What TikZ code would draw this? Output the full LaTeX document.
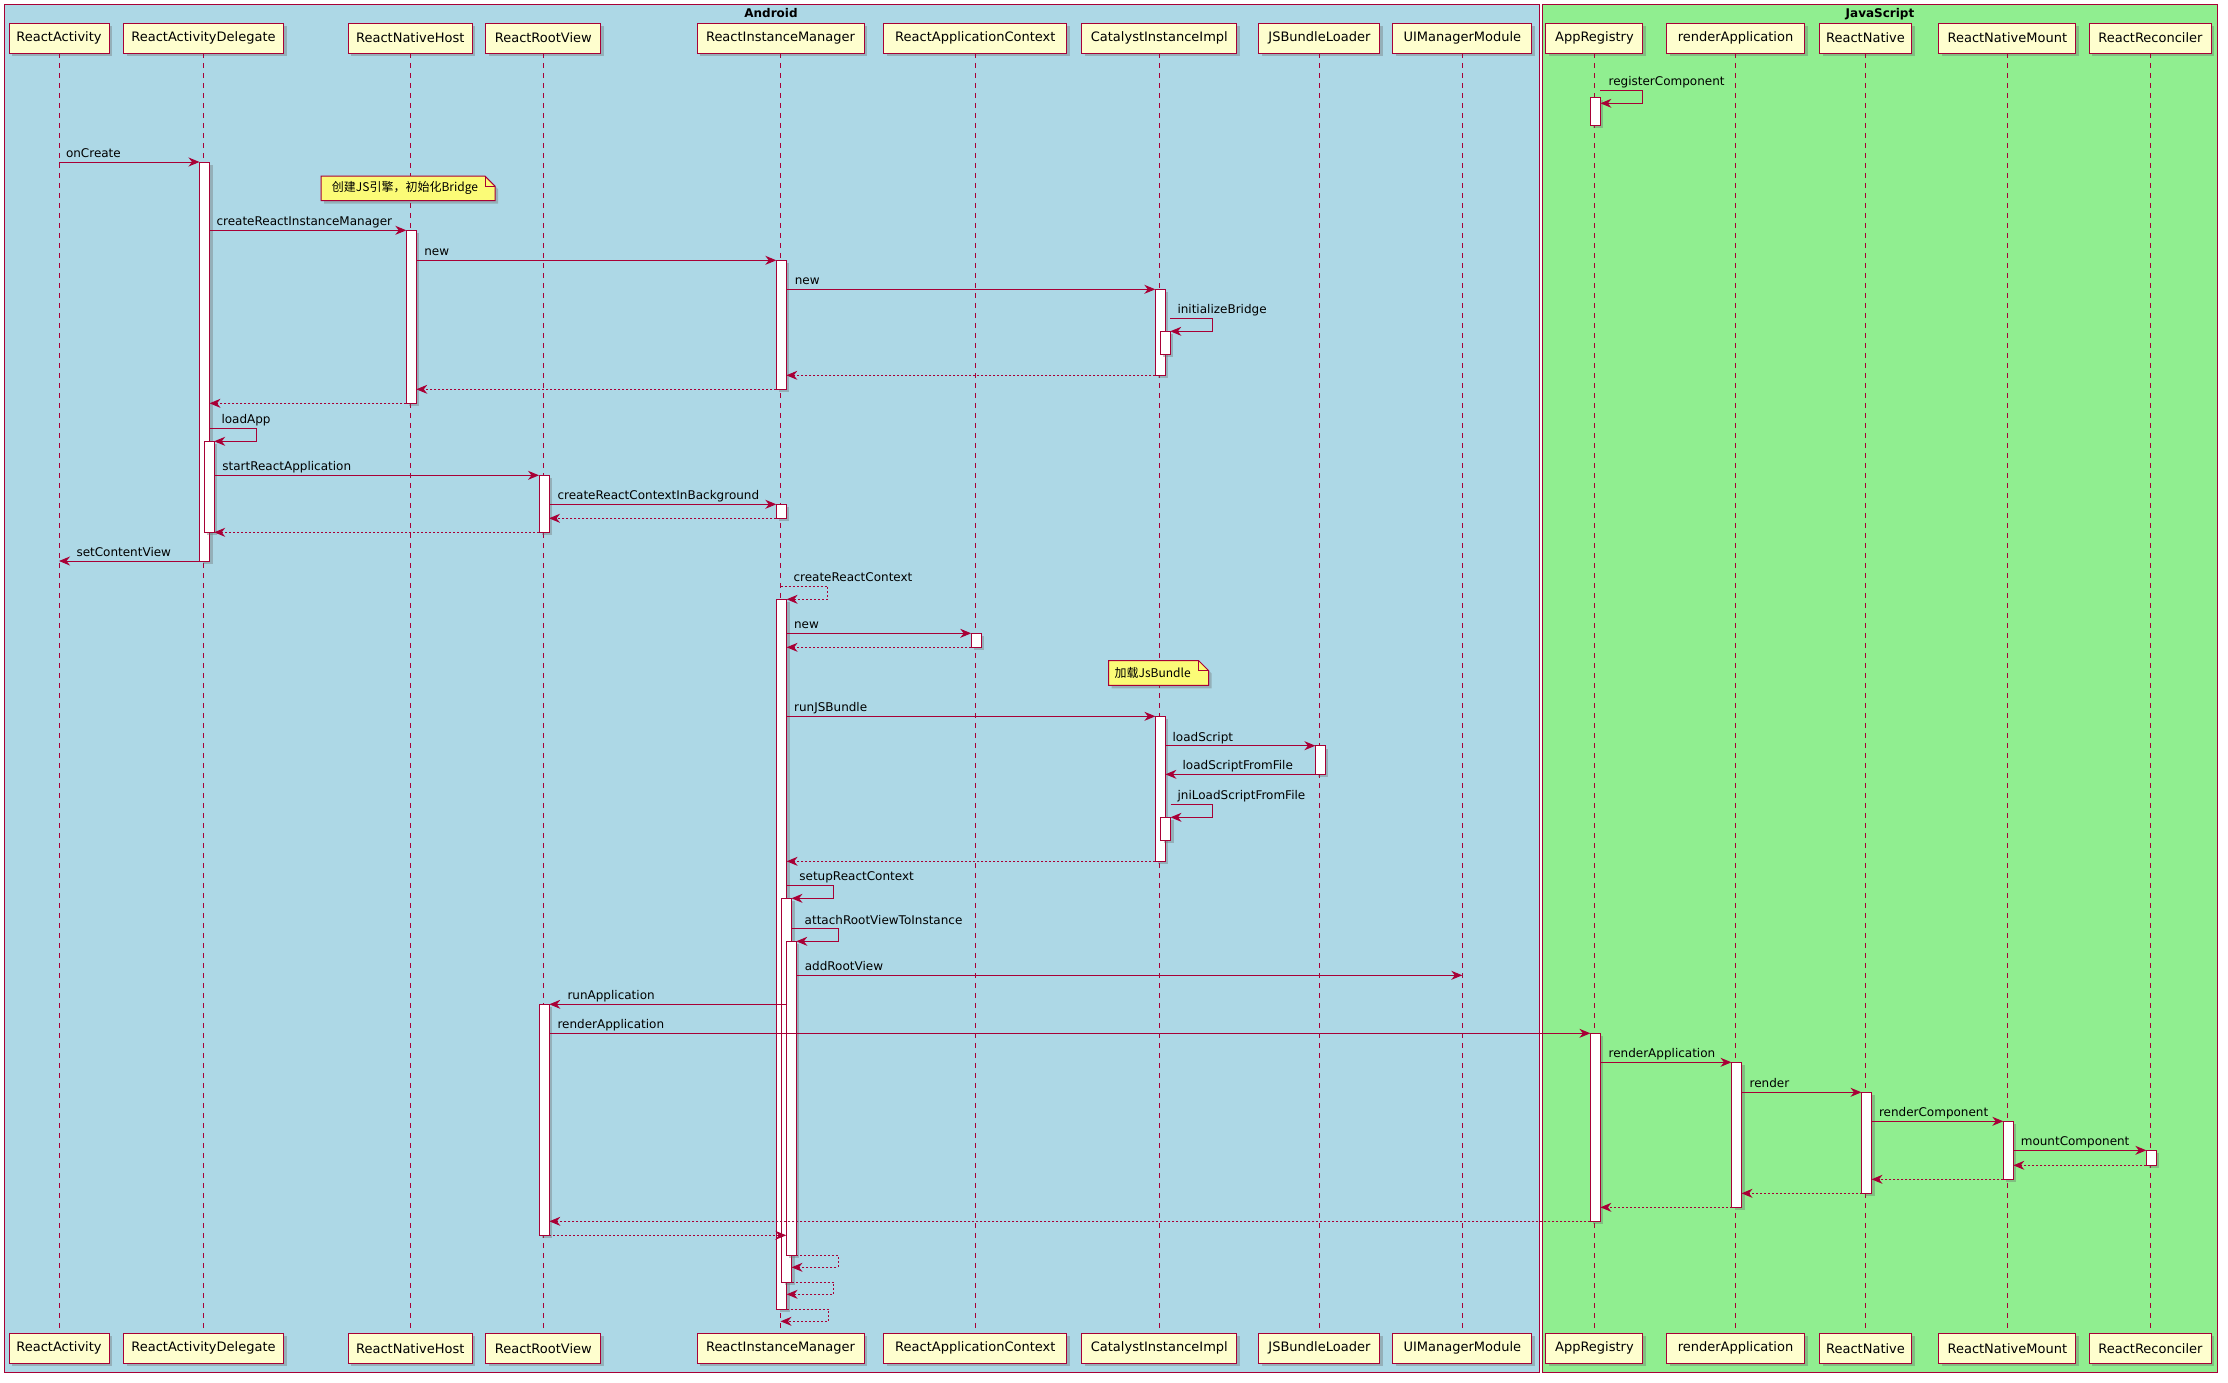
\documentclass[tikz,border=0pt]{standalone}
\usepackage{fontspec}
\setmainfont{DejaVu Sans}
\newfontfamily\cjk{Noto Sans CJK SC}
\usetikzlibrary{arrows.meta,shadows,calc}
\definecolor{pu}{HTML}{A80036}
\definecolor{pfill}{HTML}{FEFECE}
\definecolor{nfill}{HTML}{FBFB77}
\definecolor{andbg}{HTML}{ADD8E6}
\definecolor{jsbg}{HTML}{90EE90}
\tikzset{
  shad/.style={drop shadow={shadow xshift=3pt, shadow yshift=-3pt, opacity=0.35, fill=black!60}},
  part/.style={draw=pu, fill=pfill, line width=1pt, minimum height=30pt, inner sep=0pt, outer sep=0pt, font=\fontsize{13}{15}\selectfont, shad},
  life/.style={draw=pu, line width=0.9pt, dash pattern=on 5pt off 5pt},
  actbox/.style={draw=pu, fill=white, line width=1pt, minimum width=10pt, inner sep=0pt, outer sep=0pt, shad},
  msg/.style={draw=pu, line width=1pt, -{Stealth[length=11pt,width=9pt,inset=3.5pt]}},
  ret/.style={msg, dash pattern=on 2pt off 2pt},
  lbl/.style={font=\fontsize{12}{14}\selectfont, inner sep=0pt, anchor=base west, yshift=4.5pt},
  frm/.style={draw=pu, line width=1pt},
  ftitle/.style={font=\bfseries\fontsize{12}{14}\selectfont, inner sep=0pt, anchor=base},
  notebox/.style={inner sep=0pt, outer sep=0pt},
  notetext/.style={inner sep=0pt, font=\cjk\fontsize{12}{14}\selectfont},
  noteline/.style={draw=pu, fill=nfill, line width=1pt},
}
\newcommand\participant[4]{%
  \node[part, minimum width=#3pt] (#1t) at (#2,38) {#4};
  \node[part, minimum width=#3pt] (#1b) at (#2,1348.3) {#4};
  \draw[life] (#1t.south) -- (#1b.north);
}
\newcommand\actv[4]{%
  \pgfmathsetmacro\acth{#4-#3}%
  \pgfmathsetmacro\actm{(#3+#4)/2}%
  \node[actbox, minimum height=\acth pt] (#1) at (#2,\actm) {};
}
\begin{document}
\begin{tikzpicture}[x=1pt,y=-1pt]
\useasboundingbox (0,0) rectangle (2228,1382);
\fill[white] (0,0) rectangle (2228,1382);
% frames
\draw[frm, fill=andbg] (4,4) rectangle (1539,1372);
\draw[frm, fill=jsbg] (1542,4) rectangle (2217,1372);
\node[ftitle] (tA) at (771,17) {Android};
\node[ftitle] (tJ) at (1880,17) {JavaScript};
% participants
\participant{p1}{59}{100}{ReactActivity}
\participant{p2}{203.5}{160}{ReactActivityDelegate}
\participant{p3}{410.3}{124}{ReactNativeHost}
\participant{p4}{543.3}{115}{ReactRootView}
\participant{p5}{780.5}{167}{ReactInstanceManager}
\participant{p6}{975.3}{183}{ReactApplicationContext}
\participant{p7}{1159.3}{155}{CatalystInstanceImpl}
\participant{p8}{1319.4}{121}{JSBundleLoader}
\participant{p9}{1462.3}{139}{UIManagerModule}
\participant{p10}{1594.4}{97}{AppRegistry}
\participant{p11}{1735.5}{138}{renderApplication}
\participant{p12}{1865.5}{92}{ReactNative}
\participant{p13}{2007.3}{137}{ReactNativeMount}
\participant{p14}{2150.4}{122}{ReactReconciler}
% activations
\actv{aAR0}{1595.4}{97.3}{125.3}
\actv{aD1}{204.5}{162}{561}
\actv{aNH}{411.3}{230.3}{403.3}
\actv{aIM1}{781.3}{260.3}{389.3}
\actv{aCI1}{1160.3}{289.3}{375.3}
\actv{aCI2}{1165.3}{331.3}{354.3}
\actv{aD2}{209.2}{441.3}{532.3}
\actv{aRV1}{544}{475.3}{532.3}
\actv{aIM2}{781.3}{504.3}{518.3}
\actv{aIM3}{781.6}{599.3}{1309}
\actv{aAC}{976.2}{633.3}{647.3}
\actv{aCI3}{1160.4}{716.3}{861.3}
\actv{aJB}{1320.4}{745.7}{774.3}
\actv{aCI4}{1165.5}{817.3}{840}
\actv{aIM4}{786.5}{898.3}{1282.3}
\actv{aIM5}{791.3}{941.3}{1255.3}
\actv{aRV2}{544.3}{1004.3}{1235.3}
\actv{aAR}{1595.4}{1033.3}{1221.3}
\actv{aRA}{1736.5}{1062.3}{1207.3}
\actv{aRN}{1866.5}{1092.3}{1193.3}
\actv{aRNM}{2008.3}{1121.3}{1179.3}
\actv{aRR}{2151.3}{1150.3}{1165.3}
% notes
\node[notebox, minimum width=174pt, minimum height=24.5pt] (n1box) at (408,188.3) {};
\draw[noteline, shad] (n1box.south west) -- (n1box.north west) -- ([xshift=-10pt]n1box.north east) -- ([yshift=-10pt]n1box.north east) -- (n1box.south east) -- cycle;
\draw[pu, line width=1pt] ([xshift=-10pt]n1box.north east) |- ([yshift=-10pt]n1box.north east);
\node[notetext] (n1) at ([xshift=-3pt]n1box.center) {创建JS引擎，初始化Bridge};
\node[notebox, minimum width=100pt, minimum height=24.6pt] (n2box) at (1158.7,673) {};
\draw[noteline, shad] (n2box.south west) -- (n2box.north west) -- ([xshift=-10pt]n2box.north east) -- ([yshift=-10pt]n2box.north east) -- (n2box.south east) -- cycle;
\draw[pu, line width=1pt] ([xshift=-10pt]n2box.north east) |- ([yshift=-10pt]n2box.north east);
\node[notetext] (n2) at ([xshift=-6pt]n2box.center) {加载JsBundle};
% messages
\coordinate (yReg1) at (0,90);
\coordinate (yReg2) at (0,103.3);
\draw[msg] (aAR0.east |- yReg1) node[lbl, xshift=7.7pt] (m1) {registerComponent} -- ++(42,0) |- (aAR0.east |- yReg2);
\draw[msg] (p1t.south |- aD1.north) node[lbl, xshift=6.5pt] (m2) {onCreate} -- (aD1.north west);
\draw[msg] (aD1.east |- aNH.north) node[lbl, xshift=6.5pt] (m4) {createReactInstanceManager} -- (aNH.north west);
\draw[msg] (aNH.east |- aIM1.north) node[lbl, xshift=7.5pt] (m5) {new} -- (aIM1.north west);
\draw[msg] (aIM1.east |- aCI1.north) node[lbl, xshift=8pt] (m6) {new} -- (aCI1.north west);
\coordinate (yInit) at (0,318.3);
\draw[msg] (aCI2.east |- yInit) node[lbl, xshift=6.7pt] (m7) {initializeBridge} -- ++(42.4,0) |- (aCI2.north east);
\draw[ret] (aCI1.south west) -- (aIM1.east |- aCI1.south);
\draw[ret] (aIM1.south west) -- (aNH.east |- aIM1.south);
\draw[ret] (aNH.south west) -- (aD1.east |- aNH.south);
\coordinate (yLoad) at (0,428.3);
\draw[msg] (aD1.east |- yLoad) node[lbl, xshift=11.5pt] (m11) {loadApp} -- ++(47,0) |- (aD2.north east);
\draw[msg] (aD2.east |- aRV1.north) node[lbl, xshift=7.6pt] (m12) {startReactApplication} -- (aRV1.north west);
\draw[msg] (aRV1.east |- aIM2.north) node[lbl, xshift=8pt] (m13) {createReactContextInBackground} -- (aIM2.north west);
\draw[ret] (aIM2.south west) -- (aRV1.east |- aIM2.south);
\draw[ret] (aRV1.south west) -- (aD2.east |- aRV1.south);
\draw[msg] (aD1.south west) -- (p1t.south |- aD1.south) node[lbl, xshift=17pt] (m16) {setContentView};
\coordinate (yCRC) at (0,586.3);
\draw[ret] (p5t.south |- yCRC) node[lbl, xshift=12.5pt] (m17) {createReactContext} -- ++(47,0) |- (aIM3.north east);
\draw[msg] (aIM3.east |- aAC.north) node[lbl, xshift=7pt] (m18) {new} -- (aAC.north west);
\draw[ret] (aAC.south west) -- (aIM3.east |- aAC.south);
\draw[msg] (aIM3.east |- aCI3.north) node[lbl, xshift=7pt] (m21) {runJSBundle} -- (aCI3.north west);
\draw[msg] (aCI3.east |- aJB.north) node[lbl, xshift=6.7pt] (m22) {loadScript} -- (aJB.north west);
\draw[msg] (aJB.south west) -- (aCI3.east |- aJB.south) node[lbl, xshift=16.7pt] (m23) {loadScriptFromFile};
\coordinate (yJni) at (0,804.3);
\draw[msg] (aCI4.east |- yJni) node[lbl, xshift=6.6pt] (m24) {jniLoadScriptFromFile} -- ++(41.6,0) |- (aCI4.north east);
\draw[ret] (aCI3.south west) -- (aIM3.east |- aCI3.south);
\coordinate (ySetup) at (0,885.3);
\draw[msg] (aIM3.east |- ySetup) node[lbl, xshift=12.3pt] (m26) {setupReactContext} -- ++(47,0) |- (aIM4.north east);
\coordinate (yAttach) at (0,928.7);
\draw[msg] (aIM4.east |- yAttach) node[lbl, xshift=12.7pt] (m27) {attachRootViewToInstance} -- ++(47,0) |- (aIM5.north east);
\coordinate (yAdd) at (0,975.3);
\draw[msg] (aIM5.east |- yAdd) node[lbl, xshift=8pt] (m28) {addRootView} -- (p9t.south |- yAdd);
\draw[msg] (aIM5.west |- aRV2.north) -- (aRV2.north east) node[lbl, xshift=17.7pt] (m29) {runApplication};
\draw[msg] (aRV2.east |- aAR.north) node[lbl, xshift=7.7pt] (m30) {renderApplication} -- (aAR.north west);
\draw[msg] (aAR.east |- aRA.north) node[lbl, xshift=7.7pt] (m31) {renderApplication} -- (aRA.north west);
\draw[msg] (aRA.east |- aRN.north) node[lbl, xshift=7.6pt] (m32) {render} -- (aRN.north west);
\draw[msg] (aRN.east |- aRNM.north) node[lbl, xshift=7pt] (m33) {renderComponent} -- (aRNM.north west);
\draw[msg] (aRNM.east |- aRR.north) node[lbl, xshift=7pt] (m34) {mountComponent} -- (aRR.north west);
\draw[ret] (aRR.south west) -- (aRNM.east |- aRR.south);
\draw[ret] (aRNM.south west) -- (aRN.east |- aRNM.south);
\draw[ret] (aRN.south west) -- (aRA.east |- aRN.south);
\draw[ret] (aRA.south west) -- (aAR.east |- aRA.south);
\draw[ret] (aAR.south west) -- (aRV2.east |- aAR.south);
\draw[ret] (aRV2.south east) -- (aIM5.west |- aRV2.south);
\coordinate (yR37) at (0,1267.3);
\draw[ret] (aIM5.south east) -- ++(42,0) |- (aIM4.east |- yR37);
\coordinate (yR38) at (0,1294.3);
\draw[ret] (aIM4.south east) -- ++(42.4,0) |- (aIM3.east |- yR38);
\coordinate (yR39) at (0,1321.3);
\draw[ret] (aIM3.south east) -- ++(42,0) |- (p5t.south |- yR39);
\end{tikzpicture}
\end{document}
